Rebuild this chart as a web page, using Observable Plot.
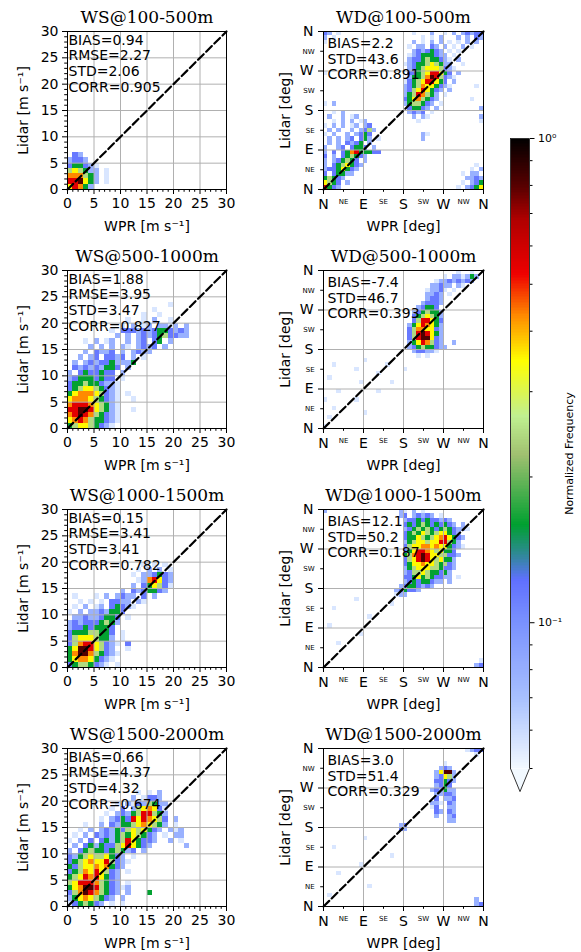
<!DOCTYPE html>
<html><head><meta charset="utf-8">
<script src="https://cdn.jsdelivr.net/npm/d3@7"></script>
<script src="https://cdn.jsdelivr.net/npm/@observablehq/plot@0.6"></script>
<style>
html,body{margin:0;padding:0;background:#fff;}
body{width:581px;height:952px;overflow:hidden;position:relative;font-family:"DejaVu Sans";}
.cell{position:absolute;}
</style></head>
<body><div id="root"></div>
<script>
// ---------------- DATA ----------------
const panelTitles = ["WS@100-500m","WD@100-500m","WS@500-1000m","WD@500-1000m",
                     "WS@1000-1500m","WD@1000-1500m","WS@1500-2000m","WD@1500-2000m"];
const panelStats = [
  ["BIAS=0.94","RMSE=2.27","STD=2.06","CORR=0.905"],
  ["BIAS=2.2","STD=43.6","CORR=0.891"],
  ["BIAS=1.88","RMSE=3.95","STD=3.47","CORR=0.827"],
  ["BIAS=-7.4","STD=46.7","CORR=0.393"],
  ["BIAS=0.15","RMSE=3.41","STD=3.41","CORR=0.782"],
  ["BIAS=12.1","STD=50.2","CORR=0.187"],
  ["BIAS=0.66","RMSE=4.37","STD=4.32","CORR=0.674"],
  ["BIAS=3.0","STD=51.4","CORR=0.329"]
];
// normalized frequency for each level code '1'..'9' ('.' = empty bin)
const levelFreq = [0, 0.056, 0.078, 0.116, 0.16, 0.245, 0.35, 0.43, 0.55, 0.81];

// WS grids: 1 m/s bins, rows top (highest) -> bottom (0), columns x = 0,1,2,...
const wsGrid100_500 = [
  ".32.....",
  "2332....",
  "344321..",
  "565422.1",
  "777542.1",
  "889642.1",
  "68742..."
];
const wsGrid500_1000 = [
  "...................1....",
  "................1.......",
  "..............1..1......",
  "...........1..1.2..1....",
  "..........1.2.12.2212.2.",
  "........1.3332323443232.",
  ".........2.2.2323453322.",
  "...1.2.12..2.23.34.2....",
  "....2.2.2.21.2323.2.....",
  "...2.3223.2.2322........",
  "..2.23.3323.2.1.........",
  ".2.2323342224...........",
  ".323232443.2............",
  "2.3433433.2.............",
  "234443433.1.............",
  "3445443221..............",
  "3456654321..............",
  "4677765321.1............",
  "6777654321..1...........",
  "7888765421..............",
  "8899865421..1...........",
  "7898754321..............",
  "6787544321..............",
  "456654321..............."
];
const wsGrid1000_1500 = [
  "..............1.1.1.....",
  ".............1.2.2.1....",
  "............1.223432....",
  ".............1278632....",
  "............2.346531....",
  "..........2.3234432.....",
  ".1...1.2.2322.3.2.......",
  "..1.1.1.3322.21.........",
  ".1.2.12.34321...........",
  "1.2.2232443.............",
  ".223223443.1............",
  "2323334542..............",
  "233434443...............",
  "344455443.1.............",
  "356665442.1.............",
  "3578865321.3............",
  "469986532..1............",
  "4799754321..............",
  "467764321...............",
  "34554321.1.............."
];
const wsGrid1500_2000 = [
  ".............1.1.2......",
  "............2.1332......",
  ".........1.21325422.....",
  "........1.3.2567631.....",
  ".......1.2324588542.....",
  "......1.23438687653.2...",
  "...1..2.32445676542.1...",
  "..1.2.232435656432.212..",
  ".1.2.323245465432.1.22..",
  "1.2.3.34245864332..2.1..",
  ".2.3424335686432......2.",
  "2.34544345423.2.........",
  "32456556432.1...........",
  "345676685321............",
  "43566767432.............",
  "3457686532.1............",
  "4568786432..............",
  "5688875432.1............",
  "467998543212............",
  "3579875432.2...4........",
  "246765432.2.............",
  "1345432.1.1............."
];
// WD grids: 10 deg bins, rows 350-360 (top) -> 0-10 (bottom), 36 columns (0-10 ... 350-360)
const wdGrid100_500 = [
  "32.1.. ...... ...... ..1... 2..1.2 .23233",
  "2.1... ...... ...... ....1. 1.2... 2.2.32",
  "1..... ...... ...... ..2.1. 2.2.1. 1.2.2.",
  "...... ...... ...... .1.22. 32.2.1 .2.1..",
  "...... ...... ...... ..2323 432.1. 1.....",
  "...... ...... ...... .12344 4322.1 ......",
  "...... ...... ...... .23345 44321. 2.....",
  "...... ...... ...... 123445 65422. .1....",
  "...... ...... ...... .23456 665321 ......",
  "1..... ...... ...... .33456 88643. 2.....",
  "...... ...... ...... .24457 985321 ......",
  "...... ...... ...... 134568 8643.2 ......",
  "...... ...... ...... 234576 64321. ....1.",
  "...... ...... ...... 235686 432.2. ......",
  "...... ...... ...... 245875 42.1.. ......",
  "...... ...... ...... 346754 32.... ...1..",
  "1.2... ...... ...... 245543 2.1... ......",
  "...... ...... ...... .34432 .2.... .....2",
  "..1.2. ...... ...... .2323. 1..... ......",
  ".2..2. 12.... ...... ..2.21 ...... .....2",
  "..1.2. 2.12.. ...... ...1.. ...... .....1",
  "1.2.2. 12.23. ...... ...... ...... ......",
  ".2.2.. 2.2352 ...... ...... ...... ......",
  "1.2..2 .2343. ...... ....21 ...... ......",
  ".2.2.2 3.342. 1..... ....2. ...... ......",
  ".2.2.3 234.2. ...... ...... ...... ......",
  "2..23. 3443.2 ...... ...... ...... ......",
  "2.3.34 784443 3..... ...... ...... ......",
  "3.2.34 5432.. ...... ...... ...... ......",
  "2.2345 43.2.. ...... ...... ...... ......",
  "2.3456 432... ...... ...... ...... ....1.",
  "233464 32.... ...... ...... ...... ...1.2",
  "3.3442 2..... ...... ...... ...... .1.22.",
  "45432. ...... ...... ...... ...... ..2232",
  "6543.2 ...... ...... ...... ...... .1.234",
  "8432.. ...... ...... ...... ...... 1.2346"
];
const wdGrid500_1000 = [
  "...... ...... ...... ...... ...... 1..1..",
  "...... ...... ...... ...... ...1.2 21242.",
  "...... ...... ...... ...... .12232 3232..",
  "...... ...... ...... ...... 22322. 21....",
  "...... ...... ...... .....1 2231.1 ......",
  "...... ...... ...... .....2 232.1. ......",
  "...... ...... ...... .....2 332... ......",
  "...... ...... ...... ....23 332... ......",
  "...... ...... ...... ...234 43.... ......",
  "...... ...... ...... ..2345 442... ......",
  "...... ...... ...... ..3456 542... ......",
  "...... ...... ...... ..3588 643... ......",
  "...... ...... ...... .24687 642... ......",
  "...... ...... ...... .35776 632... ......",
  "...... ...... ...... .35898 642... ......",
  "...... ...... ...... .35899 632... ......",
  "...... ...... ...... .24687 532..2 ......",
  "...... ...... ...... .23454 4322.. ......",
  "...... ...... ...... ..2332 21.... ......",
  "...... ...... ...... ...1.1 ...... ......",
  "...... ...1.. ...... ...... ...... ......",
  "..1... ...... ..1... ...... ...... ......",
  "...... .1.... ...... 1..... ...... ......",
  "...... ...... 1..... ...... ...... ......",
  ".1.... ...... ...... ...... ...... ......",
  "...... ..1... ...1.. ...... ...... ......",
  "...... ...... ...... ...... ...... ......",
  "...1.. ...... 1..... ...... ...... ......",
  "...... ...... ...... ...... ...... ......",
  "1..... .1.... ...... ...... ...... ......",
  "...... ...... ...... ...... ...... ......",
  "..1... ...... ...... ...... ...... ......",
  "...... ...1.. ...... ...... ...... ......",
  ".1.... ...... ...... ...... ...... ......",
  "...... ...... ...... ...... ...... ......",
  "1..... ...... ...... ...... ...... ......"
];
const wdGrid1000_1500 = [
  "2..... ...... .....2 1.2.1. ...... ......",
  "...... ...... .....2 3.2323 2.1... ......",
  "...... ...... ...... 233434 33232. ......",
  "...... ...... ...... 343454 343432 .2....",
  "...... ...... ...... 234545 434543 221...",
  "...... ...... ...... 345465 456643 2.....",
  "...... ...... ...... 344654 567864 32....",
  "...... ...... ...... 245665 668854 2.....",
  "...... ...... ...... 356677 676643 21....",
  "...... ...... ...... 346887 656443 ......",
  "...... ...... ...... 457898 665533 2.....",
  "...... ...... ...... 356898 656442 ......",
  "...... ...... ...... 346676 654532 ......",
  "...... ...... ...... 245666 554332 ......",
  "...... ...... ...... 235565 44342. ......",
  "...... ...... ...... 334645 43322. 1.....",
  "...... ...... ...... 234344 322.2. ......",
  "...... ...... .....2 344323 2..... ......",
  "...... ...... ....23 4332.. ...... ......",
  "...... ...... ....12 2..... ...... ......",
  "...... .1.... ...... ...... ...... ......",
  "...... ...... ...1.. ...... ...... ......",
  "..1... ...... ...... ...... ...... ......",
  "...... ...... ...... ...... ...... ......",
  "...... ....1. ...... ...... ...... ......",
  "...... ...... ...... ...... ...... ......",
  ".1.... ...... ...... ...... ...... ......",
  "...... ...... ...... ...... ...... ......",
  "...... ..1... ...... ...... ...... ......",
  "...... ...... ...... ...... ...... ......",
  "...1.. ...... ...... ...... ...... ......",
  "...... ...... ...... ...... ...... ......",
  "...... ...... ...... ...... ...... ......",
  "...... ...... ...... ...... ...... ......",
  "...... ...... ...... ...... ...... .....1",
  "...... ...... ...... ...... ...... ....23"
];
const wdGrid1500_2000 = [
  "...... ...... ...... ...... ...... ..1233",
  "...... ...... ...... ...... ...... ....1.",
  "...... ...... ...... ...... ...... ......",
  "...... ...... ...... ...... ...1.. ......",
  "...... ...... ...... ...... ..232. ......",
  "...... ...... ...... ...... .26992 ......",
  "...... ...... ...... ...... .23652 ......",
  "...... ...... ...... ...... .33432 ......",
  "...... ...... ...... ...... .2343. ......",
  "...... ...... ...... ...... 232422 ......",
  "...... ...... ...... ...... .22332 ......",
  "...... ...... ...... ...... .3.223 ......",
  "...... ...... ...... ...... 221.32 ......",
  "...... ...... ...... ...... 13..22 ......",
  "...... ...... ...... ...... .32.32 ......",
  "...... ...... ...... ...... .2..23 ......",
  "...... ...... ...... ...... ....22 ......",
  "...... ...... .....2 3..... ...... ......",
  "...... ...... .....3 2..... ...... ......",
  "...... ...... ...... ...... ...... ......",
  "...... ...1.. ...... ...... ...... ......",
  "...... ...... ...... ...... ...... ......",
  "..1... ...... ...... ...... ...... ......",
  "...... ...... ...... ...... ...... ......",
  "...... ...... ...1.. ...... ...... ......",
  "...... ...... ...... ...... ...... ......",
  "...... ..1... ...... ...... ...... ......",
  "...... ...... ...... ...... ...... ......",
  "...1.. ...... ...... ...... ...... ......",
  "...... ...... ...... ...... ...... ......",
  "...... ...... ...... ...... ...... ......",
  "...... ....1. ...... ...... ...... ......",
  "...... ...... ...... ...... ...... ......",
  ".1.... ...... ...... ...... ...... ......",
  "...... ...... ...... ...... ...... ....2.",
  "...... ...... ...... ...... ...... ....23"
];
const panelGrids = [wsGrid100_500, wdGrid100_500, wsGrid500_1000, wdGrid500_1000,
                    wsGrid1000_1500, wdGrid1000_1500, wsGrid1500_2000, wdGrid1500_2000];

// axis ticks / labels
const wsMajor = [0, 5, 10, 15, 20, 25, 30];
const wsGridLines = [5, 10, 15, 20, 25];
const wdMajor = [0, 90, 180, 270, 360];
const wdMajorLabels = ["N", "E", "S", "W", "N"];
const wdMinor = [45, 135, 225, 315];
const wdMinorLabels = ["NE", "SE", "SW", "NW"];
const wdGridLines = [90, 180, 270];
const cbMajor = [0.1, 1];
const cbMajorLabels = ["10\u207B\u00B9", "10\u2070"];
const cbMinor = [0.05, 0.06, 0.07, 0.08, 0.09, 0.2, 0.3, 0.4, 0.5, 0.6, 0.7, 0.8, 0.9];
const cbLabel = "Normalized Frequency";

// colormap (white-blue-green-yellow-red-black), log normalized 0.05..1
const colorStops = [0.05, 0.0697, 0.1011, 0.1222, 0.1377, 0.159, 0.2218, 0.2667, 0.3463, 0.4285, 0.5236, 0.6773, 0.7915, 1];
const colorHex = ["#f2f9ff","#a8c0ff","#7890ff","#6070ff","#308898","#00a030","#a0c070","#c0f090","#ffff00","#ff8c00","#ee0000","#b00000","#5a0000","#000000"];

// ---------------- RENDER ----------------
const colorScale = {type: "log", domain: colorStops, range: colorHex, interpolate: "rgb", clamp: true};
const baseStyle = {fontFamily: "DejaVu Sans", color: "black", background: "transparent", overflow: "visible"};

function gridCells(grid, bin) {
  const cells = [];
  grid.forEach((row, r) => {
    const s = row.replace(/ /g, "");
    const yb = grid.length - 1 - r;
    for (let c = 0; c < s.length; c++) {
      const ch = s[c];
      if (ch === ".") continue;
      cells.push({x1: c * bin, x2: (c + 1) * bin, y1: yb * bin, y2: (yb + 1) * bin, v: levelFreq[+ch]});
    }
  });
  return cells;
}

function makePanel(i) {
  const isWS = i % 2 === 0;
  const maxV = isWS ? 30 : 360;
  const bin = isWS ? 1 : 10;
  const cells = gridCells(panelGrids[i], bin);
  const plotW = isWS ? 159 : 160;
  const mL = 67, mR = 12, mT = 31, mB = 46, pH = 158;
  const gl = isWS ? wsGridLines : wdGridLines;
  const axes = [];
  if (isWS) {
    const minor = d3.range(0, 31).filter(v => v % 5 !== 0);
    axes.push(
      Plot.axisX(wsMajor, {anchor: "bottom", tickSize: 5, tickPadding: 4, fontSize: 14, label: null}),
      Plot.axisX(minor, {anchor: "bottom", tickSize: 2.8, tickFormat: () => "", label: null}),
      Plot.axisY(wsMajor, {anchor: "left", tickSize: 5, tickPadding: 4, fontSize: 14, label: null}),
      Plot.axisY(minor, {anchor: "left", tickSize: 2.8, tickFormat: () => "", label: null})
    );
  } else {
    const majF = d => wdMajorLabels[wdMajor.indexOf(d)];
    const minF = d => wdMinorLabels[wdMinor.indexOf(d)];
    axes.push(
      Plot.axisX(wdMajor, {anchor: "bottom", tickSize: 5, tickPadding: 5, fontSize: 14, tickFormat: majF, label: null}),
      Plot.axisX(wdMinor, {anchor: "bottom", tickSize: 2.8, tickPadding: 7, fontSize: 7, tickFormat: minF, label: null}),
      Plot.axisY(wdMajor, {anchor: "left", tickSize: 5, tickPadding: 5, fontSize: 14, tickFormat: majF, label: null}),
      Plot.axisY(wdMinor, {anchor: "left", tickSize: 2.8, tickPadding: 6, fontSize: 7, tickFormat: minF, label: null})
    );
  }
  const stats = panelStats[i].map((s, k) => Plot.text([s], {
    text: d => d, frameAnchor: "top-left", dx: isWS ? 1 : 4, dy: (isWS ? 13.3 : 16.5) + k * 15.65,
    lineAnchor: "bottom", textAnchor: "start", fontSize: 14
  }));
  const marks = [
    Plot.rect(cells, {x1: "x1", x2: "x2", y1: "y1", y2: "y2", fill: "v", shapeRendering: "crispEdges"}),
    Plot.gridX(gl, {stroke: "#b0b0b0", strokeOpacity: 1, strokeWidth: 1}),
    Plot.gridY(gl, {stroke: "#b0b0b0", strokeOpacity: 1, strokeWidth: 1}),
    Plot.line([0, maxV], {x: d => d, y: d => d, stroke: "black", strokeWidth: 2.2, strokeDasharray: "8,3.5"}),
    Plot.frame({stroke: "black", strokeWidth: 1}),
    ...axes,
    ...stats,
    Plot.text([panelTitles[i]], {text: d => d, frameAnchor: "top", dy: -9, lineAnchor: "bottom", fontFamily: "DejaVu Serif", fontSize: 17}),
    Plot.text([isWS ? "WPR [m s\u207B\u00B9]" : "WPR [deg]"], {text: d => d, frameAnchor: "bottom", dy: 37.4, lineAnchor: "middle", fontSize: 14}),
    Plot.text([isWS ? "Lidar [m s\u207B\u00B9]" : "Lidar [deg]"], {text: d => d, frameAnchor: "left", dx: isWS ? -43.7 : -37.7, rotate: -90, lineAnchor: "middle", textAnchor: "middle", fontSize: 14})
  ];
  return {svg: Plot.plot({
    width: mL + plotW + mR, height: mT + pH + mB,
    marginLeft: mL, marginRight: mR, marginTop: mT, marginBottom: mB,
    x: {domain: [0, maxV]}, y: {domain: [0, maxV]},
    color: colorScale, style: baseStyle, marks
  }), width: mL + plotW + mR};
}

function makeColorbar() {
  const n = 400;
  const vAt = t => 0.05 * Math.pow(20, t);
  const samples = d3.range(n).map(k => k / n);
  const tip = 0.0448;
  return Plot.plot({
    width: 91, height: 680, marginLeft: 20, marginRight: 52, marginTop: 20, marginBottom: 30,
    x: {domain: [0, 1], axis: null},
    y: {type: "log", domain: [0.05, 1]},
    color: colorScale, style: baseStyle,
    marks: [
      Plot.rect(samples, {x1: 0, x2: 1, y1: t => vAt(t), y2: t => vAt(Math.min(1, t + 1.6 / n)), fill: t => vAt(t + 0.5 / n), shapeRendering: "crispEdges"}),
      Plot.line([[0, 0.05], [0.5, tip], [1, 0.05]], {x: d => d[0], y: d => d[1], fill: "#f2f9ff", stroke: "none"}),
      Plot.line([[0, 0.05], [0, 1], [1, 1], [1, 0.05], [0.5, tip], [0, 0.05]], {x: d => d[0], y: d => d[1], stroke: "#333", strokeWidth: 1}),
      Plot.axisY(cbMajor, {anchor: "right", tickSize: 4.5, tickPadding: 4, fontSize: 11, tickFormat: d => cbMajorLabels[cbMajor.indexOf(d)], label: null}),
      Plot.axisY(cbMinor, {anchor: "right", tickSize: 2.5, tickFormat: () => "", label: null}),
      Plot.text([cbLabel], {text: d => d, frameAnchor: "right", dx: 40, rotate: -90, lineAnchor: "middle", textAnchor: "middle", fontSize: 11})
    ]
  });
}

const root = document.getElementById("root");
function place(el, left, top, w) {
  const d = document.createElement("div");
  d.className = "cell";
  d.style.left = left + "px"; d.style.top = top + "px"; d.style.width = w + "px";
  d.appendChild(el);
  root.appendChild(d);
}
const rowTops = [0, 239, 478, 717];
for (let r = 0; r < 4; r++) {
  const L = makePanel(2 * r);
  place(L.svg, 0, rowTops[r], L.width);
  const R = makePanel(2 * r + 1);
  place(R.svg, 256, rowTops[r], R.width);
}
place(makeColorbar(), 490, 118, 91);
</script>
</body></html>
